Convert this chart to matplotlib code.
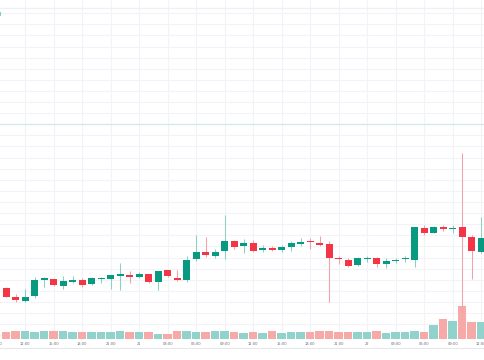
import matplotlib
matplotlib.use("Agg")
import matplotlib.pyplot as plt
import numpy as np

# ---- data (hourly candles) ----
opens = [62.63, 62.23, 62.05, 62.27, 62.99, 63.03, 62.70, 62.91, 62.99, 62.79,
         63.03, 63.02, 63.18, 63.23, 63.11, 63.26, 62.91, 63.42, 63.08, 62.99,
         63.92, 64.23, 64.07, 64.28, 64.73, 64.54, 64.64, 64.34, 64.43, 64.32,
         64.46, 64.61, 64.74, 64.65, 64.59, 63.99, 63.89, 63.65, 63.95, 63.98,
         63.71, 63.83, 63.92, 63.89, 65.32, 65.12, 65.39, 65.28, 65.36, 64.94,
         64.26]
highs = [62.65, 62.36, 62.58, 63.14, 63.14, 63.05, 63.17, 63.17, 63.06, 63.14,
         63.14, 63.21, 63.77, 63.41, 63.36, 63.27, 63.41, 63.44, 63.42, 64.05,
         65.01, 64.91, 64.37, 65.90, 64.81, 64.82, 64.78, 64.56, 64.52, 64.58,
         64.76, 64.89, 64.89, 64.98, 64.76, 64.09, 63.99, 64.01, 64.08, 64.04,
         63.98, 63.99, 64.07, 65.36, 65.46, 65.42, 65.48, 65.46, 68.72, 65.01,
         65.84]
lows = [62.20, 62.00, 62.00, 62.16, 62.69, 62.72, 62.59, 62.83, 62.67, 62.76,
        62.87, 62.57, 62.54, 62.83, 63.06, 62.84, 62.54, 63.12, 62.94, 62.90,
        63.86, 64.04, 63.98, 63.92, 64.38, 64.22, 64.27, 64.25, 64.28, 64.23,
        64.29, 64.52, 64.37, 64.50, 62.01, 63.71, 63.59, 63.62, 63.80, 63.59,
        63.53, 63.74, 63.80, 63.59, 65.03, 65.09, 65.21, 65.09, 61.51, 63.03,
        64.19]
closes = [62.22, 62.09, 62.23, 62.99, 63.09, 62.75, 62.96, 62.99, 62.75, 63.06,
          63.09, 63.20, 63.27, 63.12, 63.26, 62.91, 63.39, 63.15, 62.99, 63.89,
          64.25, 64.10, 64.25, 64.73, 64.47, 64.64, 64.31, 64.43, 64.34, 64.49,
          64.67, 64.71, 64.70, 64.56, 63.96, 63.91, 63.62, 63.98, 63.99, 63.71,
          63.86, 63.90, 63.95, 65.36, 65.12, 65.39, 65.28, 65.32, 64.91, 64.31,
          64.89]
volumes = [7.0, 8.3, 8.0, 7.8, 8.3, 8.0, 8.0, 7.0, 7.6, 7.0,
           7.6, 7.6, 8.3, 7.6, 7.0, 7.3, 5.1, 5.1, 8.0, 8.0,
           7.0, 7.0, 8.0, 8.0, 7.0, 6.7, 7.0, 6.5, 8.0, 6.8,
           7.5, 7.1, 7.0, 8.0, 8.0, 7.3, 7.8, 7.1, 7.1, 8.0,
           6.8, 7.1, 7.0, 8.3, 7.1, 14.8, 20.0, 18.3, 33.3, 17.0,
           17.0]
tick_labels = ["09:00", "12:00", "15:00", "18:00", "21:00", "21", "03:00",
               "06:00", "09:00", "12:00", "15:00", "18:00", "21:00", "22",
               "03:00", "06:00", "09:00", "12:00"]
tick_start = -1      # candle index of first tick label
tick_step = 3        # one label every 3 hours
ref_price = 70.0     # horizontal teal line

# ---- style ----
UP, DOWN = "#089981", "#f23645"
UP_WICK, DOWN_WICK = "#8ccfc3", "#f5a0a8"
UP_VOL, DOWN_VOL = "#92d2cc", "#f7a9a7"
GRID = "#f1f3f8"

n = len(opens)
x = np.arange(n)
up = np.array(closes) >= np.array(opens)

W, H = 485, 360
fig = plt.figure(figsize=(W / 100, H / 100), dpi=100)
fig.patch.set_facecolor("white")

x_lo, x_hi = -0.653, 50.40
ax_vol = fig.add_axes([0, 0, 1, 1])
ax = fig.add_axes([0, 0, 1, 1], sharex=ax_vol)
ax.patch.set_alpha(0)
for a in (ax, ax_vol):
    a.set_xlim(x_lo, x_hi)
    a.axis("off")

ax.set_ylim(59.383, 75.599)
ax_vol.set_ylim(-20.7, 339.3)

# grid (drawn on the bottom axes)
tick_pos = tick_start + tick_step * np.arange(len(tick_labels))
ax_vol.vlines(tick_pos, 0, 339.3, color=GRID, lw=0.8, zorder=0)
for p in np.arange(60.5, 75.01, 0.5):
    yv = (p - 59.383) / (75.599 - 59.383) * 360 - 20.7
    ax_vol.axhline(yv, color=GRID, lw=0.8, zorder=0)
ax_vol.axhline((75.24 - 59.383) / (75.599 - 59.383) * 360 - 20.7,
               color="#eef0f4", lw=1.0, zorder=0)

# volume
ax_vol.bar(x, volumes, width=0.9, bottom=0,
           color=[UP_VOL if u else DOWN_VOL for u in up], linewidth=0, zorder=1)

# reference line
ax.axhline(ref_price, color="#d3ebe7", lw=0.9, zorder=1)

# candles
o = np.array(opens); c = np.array(closes)
ax.vlines(x, lows, highs, colors=[UP_WICK if u else DOWN_WICK for u in up],
          lw=0.75, zorder=2)
body_h = np.maximum(np.abs(c - o), 0.05)
ax.bar(x, body_h, bottom=np.minimum(o, c), width=0.76,
       color=[UP if u else DOWN for u in up], linewidth=0, zorder=3)

# time axis labels
for pos, lab in zip(tick_pos, tick_labels):
    ax.text(pos, 0.044, lab, transform=ax.get_xaxis_transform(),
            ha="center", va="center", fontsize=2.6, color="#6a6d78",
            clip_on=False)
fig.add_artist(plt.Line2D([0, 1], [12 / 360, 12 / 360], color="#e4e6ec", lw=0.7))

# small teal marker at top-left
fig.add_artist(plt.Rectangle((0, (360 - 15.7) / 360), 1.3 / W, 3.8 / H,
                             color="#7fd0c6", lw=0))

fig.savefig("out.png", dpi=100, facecolor="white")
